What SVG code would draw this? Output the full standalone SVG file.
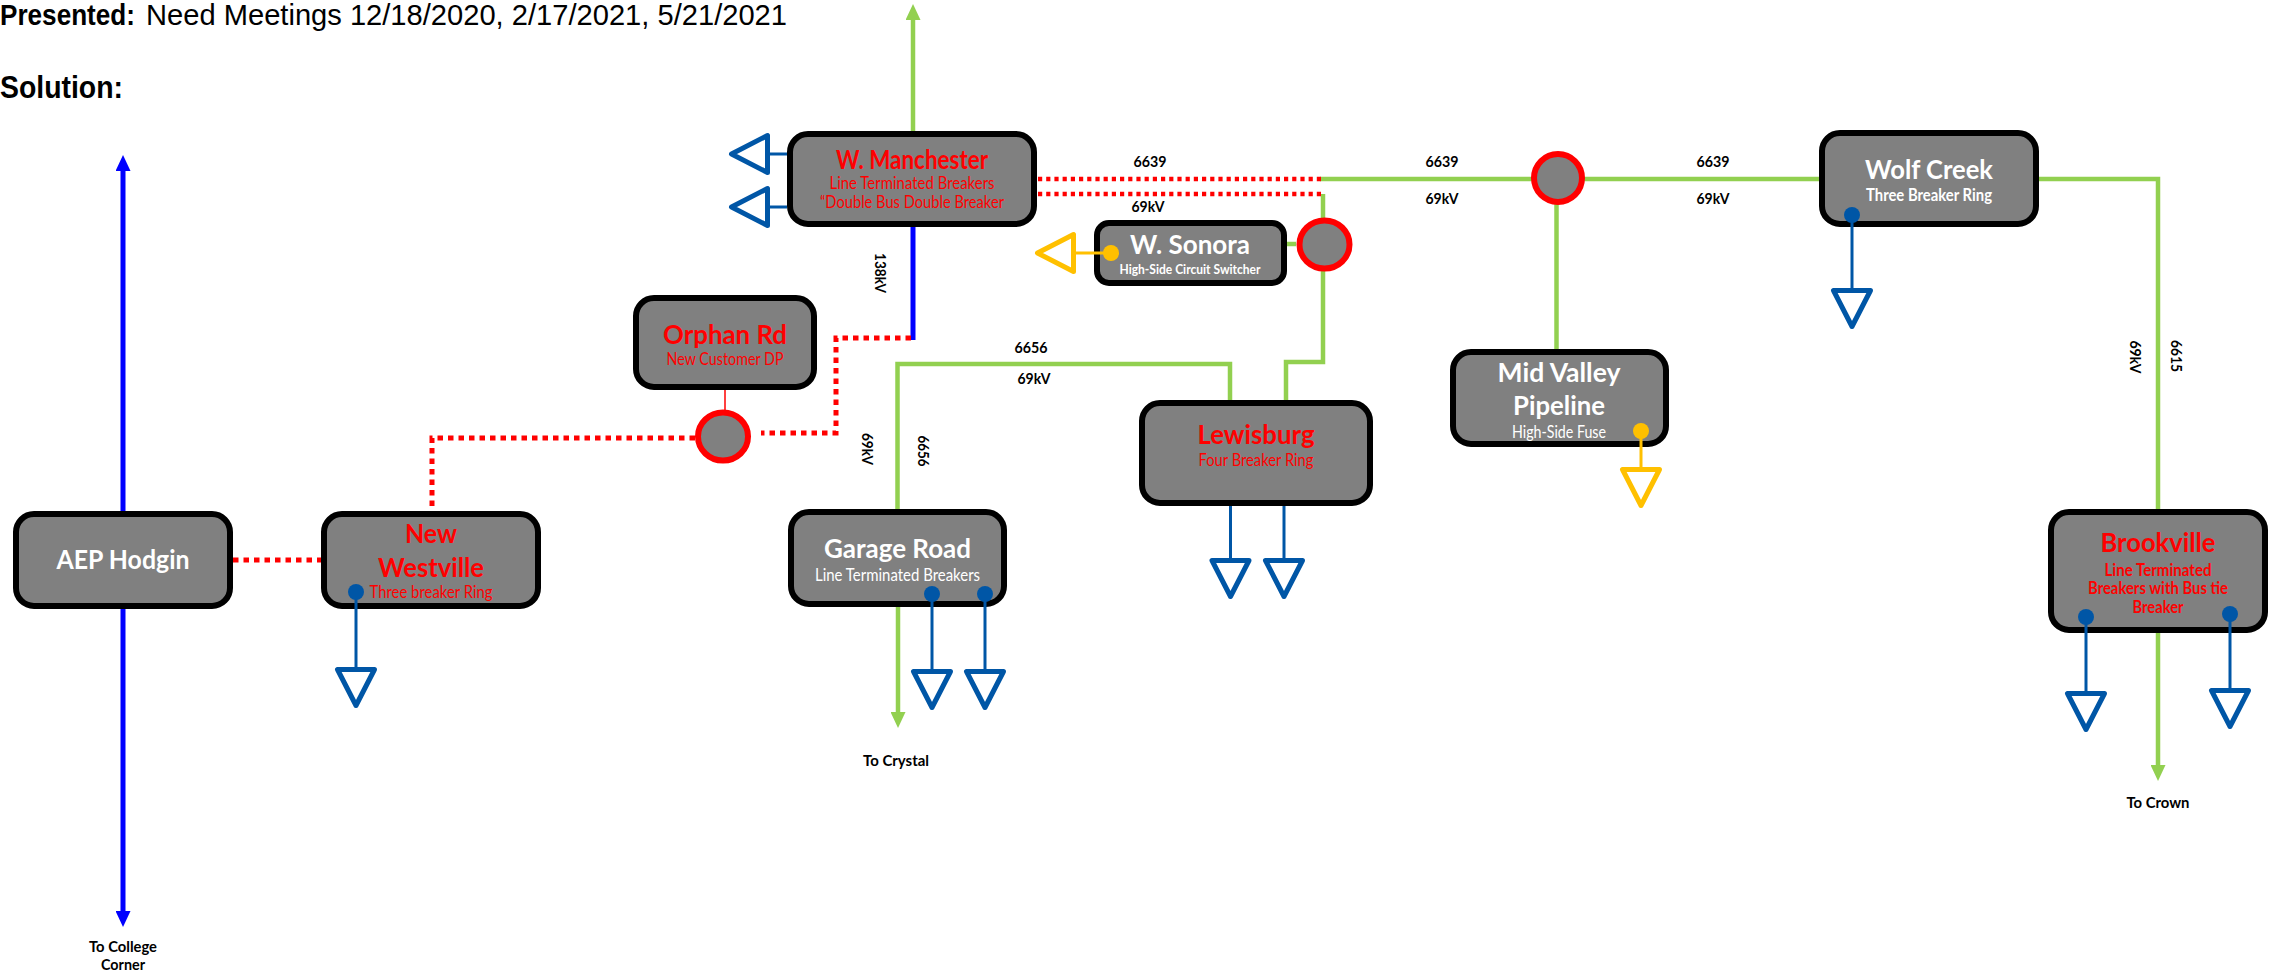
<svg xmlns="http://www.w3.org/2000/svg" width="2272" height="974" viewBox="0 0 2272 974">
<style>
text{font-family:Lato,"Open Sans",sans-serif;text-anchor:middle}
.head{font-family:"Liberation Sans",Arial,sans-serif;text-anchor:start;font-size:29px;fill:#000}
.b{font-weight:700}
.box{fill:#808080;stroke:#000;stroke-width:6}
.t{font-weight:700;font-size:27px}
.s{font-size:16.500px}
.red{fill:#f00}.wht{fill:#fff}
.lbl{font-weight:700;font-size:15.500px;fill:#000}
.g{fill:none;stroke:#92D050;stroke-width:4.500}
.r{fill:none;stroke:#f00;stroke-width:5;stroke-dasharray:5.500 5}
.r2{fill:none;stroke:#f00;stroke-width:4.500;stroke-dasharray:4.200 4}
.bl{fill:none;stroke:#00f;stroke-width:5}
.tl{fill:none;stroke:#0056A6;stroke-width:3}
.al{fill:none;stroke:#FFC000;stroke-width:3}
.tri{fill:#fff;stroke-width:5;stroke-linejoin:round}
.tb{stroke:#0056A6}.ta{stroke:#FFC000}
.db{fill:#0056A6}.da{fill:#FFC000}
.j{fill:#808080;stroke:#f00;stroke-width:6}
</style>
<defs>
<marker id="ab" markerUnits="userSpaceOnUse" markerWidth="16" markerHeight="15" refX="0" refY="7.5" orient="auto"><path d="M0,0L16,7.5L0,15z" fill="#00f"/></marker>
<marker id="ag" markerUnits="userSpaceOnUse" markerWidth="16" markerHeight="15" refX="0" refY="7.5" orient="auto"><path d="M0,0L16,7.5L0,15z" fill="#92D050"/></marker>
<polygon id="load" points="-18.5,0 18.5,0 0,36"/>
</defs>
<g id="headings">
<text class="head b" x="0" y="25" textLength="135" lengthAdjust="spacingAndGlyphs">Presented:</text>
<text class="head" x="146" y="25" textLength="641" lengthAdjust="spacingAndGlyphs">Need Meetings 12/18/2020, 2/17/2021, 5/21/2021</text>
<text class="head b" x="0" y="98" style="font-size:31px" textLength="123" lengthAdjust="spacingAndGlyphs">Solution:</text>
</g>
<g id="connectors">
<path class="bl" d="M123,511V171" marker-end="url(#ab)"/>
<path class="bl" d="M123,609V911" marker-end="url(#ab)"/>
<path class="g" d="M913,131V20" marker-end="url(#ag)"/>
<path class="bl" d="M913,227V340"/>
<path class="r" d="M911,338H836V433H761"/>
<path class="r" d="M695,438H432V509"/>
<path class="r" d="M233,560H321"/>
<path d="M725,390V410" fill="none" stroke="#f00" stroke-width="1.5"/>
<path class="g" d="M1320,179H1819"/>
<path class="g" d="M1323,194V219"/>
<path class="r2" d="M1038,179H1323"/>
<path class="r2" d="M1038,194H1324"/>
<path class="g" d="M1287,244H1296"/>
<path class="g" d="M1323,271V362H1286V400"/>
<path class="g" d="M1230,400V364H897.500V509"/>
<path class="g" d="M898,607V712" marker-end="url(#ag)"/>
<path class="g" d="M1556.500,204V349"/>
<path class="g" d="M2039,179H2158V509"/>
<path class="g" d="M2158,633V765" marker-end="url(#ag)"/>
<path class="tl" d="M768,154H787M768,207H787"/>
</g>
<g id="aep-hodgin">
<rect class="box" x="16" y="514" width="214" height="92" rx="18"/>
<text class="t wht" x="123" y="569" textLength="133" lengthAdjust="spacingAndGlyphs">AEP Hodgin</text>
</g>
<g id="new-westville">
<rect class="box" x="324" y="514" width="214" height="92" rx="18"/>
<text class="t red" x="431" y="543" textLength="52" lengthAdjust="spacingAndGlyphs">New</text>
<text class="t red" x="431" y="577" textLength="106" lengthAdjust="spacingAndGlyphs">Westville</text>
<text class="s red" x="431" y="598" textLength="123" lengthAdjust="spacingAndGlyphs">Three breaker Ring</text>
<path class="tl" d="M356,592V670"/>
<circle class="db" cx="356" cy="592" r="8"/>
<use href="#load" x="356" y="669.500" class="tri tb"/>
</g>
<g id="orphan-rd">
<rect class="box" x="636" y="298" width="178" height="89" rx="18"/>
<text class="t red" x="725" y="344" textLength="124" lengthAdjust="spacingAndGlyphs">Orphan Rd</text>
<text class="s red" x="725" y="365" textLength="117" lengthAdjust="spacingAndGlyphs">New Customer DP</text>
</g>
<g id="orphan-junction"><ellipse class="j" cx="723" cy="436.500" rx="25" ry="24"/></g>
<g id="w-manchester">
<rect class="box" x="790" y="134" width="244" height="90" rx="18"/>
<text class="t red" x="912" y="169" textLength="152" lengthAdjust="spacingAndGlyphs">W. Manchester</text>
<text class="s red" x="912" y="189" textLength="165" lengthAdjust="spacingAndGlyphs">Line Terminated Breakers</text>
<text class="s red" x="912" y="208" textLength="184" lengthAdjust="spacingAndGlyphs">“Double Bus Double Breaker</text>
<use href="#load" transform="translate(767.500,154) rotate(90)" class="tri tb"/>
<use href="#load" transform="translate(767.500,207) rotate(90)" class="tri tb"/>
</g>
<g id="w-sonora">
<rect class="box" x="1097" y="223" width="187" height="60" rx="12"/>
<text class="t wht" x="1190" y="254" textLength="120" lengthAdjust="spacingAndGlyphs">W. Sonora</text>
<text class="s wht b" x="1190" y="274" style="font-size:14px" textLength="141" lengthAdjust="spacingAndGlyphs">High-Side Circuit Switcher</text>
<path class="al" d="M1073,253H1111"/>
<circle class="da" cx="1111" cy="253" r="8"/>
<use href="#load" transform="translate(1073.500,253) rotate(90)" class="tri ta"/>
</g>
<g id="sonora-junction"><ellipse class="j" cx="1324.500" cy="244.500" rx="25" ry="24"/></g>
<g id="main-junction"><ellipse class="j" cx="1558" cy="178" rx="24" ry="24"/></g>
<g id="garage-road">
<rect class="box" x="791" y="512" width="213" height="92" rx="18"/>
<text class="t wht" x="897.500" y="558" textLength="147" lengthAdjust="spacingAndGlyphs">Garage Road</text>
<text class="s wht" x="897.500" y="581" textLength="165" lengthAdjust="spacingAndGlyphs">Line Terminated Breakers</text>
<path class="tl" d="M932,594V672"/>
<path class="tl" d="M985,594V672"/>
<circle class="db" cx="932" cy="594" r="8"/>
<circle class="db" cx="985" cy="594" r="8"/>
<use href="#load" x="932" y="671.500" class="tri tb"/>
<use href="#load" x="985" y="671.500" class="tri tb"/>
</g>
<g id="lewisburg">
<rect class="box" x="1142" y="403" width="228" height="100" rx="18"/>
<text class="t red" x="1256" y="444" textLength="117" lengthAdjust="spacingAndGlyphs">Lewisburg</text>
<text class="s red" x="1256" y="466" textLength="115" lengthAdjust="spacingAndGlyphs">Four Breaker Ring</text>
<path class="tl" d="M1230.500,506V561"/>
<path class="tl" d="M1284,506V561"/>
<use href="#load" x="1230.500" y="560.500" class="tri tb"/>
<use href="#load" x="1284" y="560.500" class="tri tb"/>
</g>
<g id="mid-valley-pipeline">
<rect class="box" x="1453" y="352" width="213" height="92" rx="18"/>
<text class="t wht" x="1559" y="382" textLength="123" lengthAdjust="spacingAndGlyphs">Mid Valley</text>
<text class="t wht" x="1559" y="415" textLength="92" lengthAdjust="spacingAndGlyphs">Pipeline</text>
<text class="s wht" x="1559" y="438" textLength="94" lengthAdjust="spacingAndGlyphs">High-Side Fuse</text>
<path class="al" d="M1641,431V470"/>
<circle class="da" cx="1641" cy="431" r="8"/>
<use href="#load" x="1641" y="469.500" class="tri ta"/>
</g>
<g id="wolf-creek">
<rect class="box" x="1822" y="133" width="214" height="91" rx="18"/>
<text class="t wht" x="1929" y="179" textLength="128" lengthAdjust="spacingAndGlyphs">Wolf Creek</text>
<text class="s wht b" x="1929" y="201" textLength="126" lengthAdjust="spacingAndGlyphs">Three Breaker Ring</text>
<path class="tl" d="M1852,215V291"/>
<circle class="db" cx="1852" cy="215" r="8"/>
<use href="#load" x="1852" y="290.500" class="tri tb"/>
</g>
<g id="brookville">
<rect class="box" x="2051" y="512" width="214" height="118" rx="18"/>
<text class="t red" x="2158" y="552" textLength="115" lengthAdjust="spacingAndGlyphs">Brookville</text>
<text class="s red b" x="2158" y="576" textLength="107" lengthAdjust="spacingAndGlyphs">Line Terminated</text>
<text class="s red b" x="2158" y="594" textLength="140" lengthAdjust="spacingAndGlyphs">Breakers with Bus tie</text>
<text class="s red b" x="2158" y="613" textLength="51" lengthAdjust="spacingAndGlyphs">Breaker</text>
<path class="tl" d="M2086,617V694"/>
<path class="tl" d="M2230,614V691"/>
<circle class="db" cx="2086" cy="617" r="8"/>
<circle class="db" cx="2230" cy="614" r="8"/>
<use href="#load" x="2086" y="693.500" class="tri tb"/>
<use href="#load" x="2230" y="690.500" class="tri tb"/>
</g>
<g id="labels">
<text class="lbl" x="1150" y="167" textLength="33" lengthAdjust="spacingAndGlyphs">6639</text>
<text class="lbl" x="1148" y="212" textLength="33" lengthAdjust="spacingAndGlyphs">69kV</text>
<text class="lbl" x="1442" y="167" textLength="33" lengthAdjust="spacingAndGlyphs">6639</text>
<text class="lbl" x="1442" y="204" textLength="33" lengthAdjust="spacingAndGlyphs">69kV</text>
<text class="lbl" x="1713" y="167" textLength="33" lengthAdjust="spacingAndGlyphs">6639</text>
<text class="lbl" x="1713" y="204" textLength="33" lengthAdjust="spacingAndGlyphs">69kV</text>
<text class="lbl" x="1031" y="353" textLength="33" lengthAdjust="spacingAndGlyphs">6656</text>
<text class="lbl" x="1034" y="384" textLength="33" lengthAdjust="spacingAndGlyphs">69kV</text>
<text class="lbl" transform="translate(875,273) rotate(90)" textLength="40" lengthAdjust="spacingAndGlyphs">138kV</text>
<text class="lbl" transform="translate(862,449) rotate(90)" textLength="32" lengthAdjust="spacingAndGlyphs">69kV</text>
<text class="lbl" transform="translate(918,451) rotate(90)" textLength="31" lengthAdjust="spacingAndGlyphs">6656</text>
<text class="lbl" transform="translate(2130,357) rotate(90)" textLength="33" lengthAdjust="spacingAndGlyphs">69kV</text>
<text class="lbl" transform="translate(2171,356) rotate(90)" textLength="32" lengthAdjust="spacingAndGlyphs">6615</text>
<text class="lbl" x="896" y="766" textLength="66" lengthAdjust="spacingAndGlyphs">To Crystal</text>
<text class="lbl" x="2158" y="808" textLength="63" lengthAdjust="spacingAndGlyphs">To Crown</text>
<text class="lbl" x="123" y="952" textLength="68" lengthAdjust="spacingAndGlyphs">To College</text>
<text class="lbl" x="123" y="970" textLength="44" lengthAdjust="spacingAndGlyphs">Corner</text>
</g>
</svg>
